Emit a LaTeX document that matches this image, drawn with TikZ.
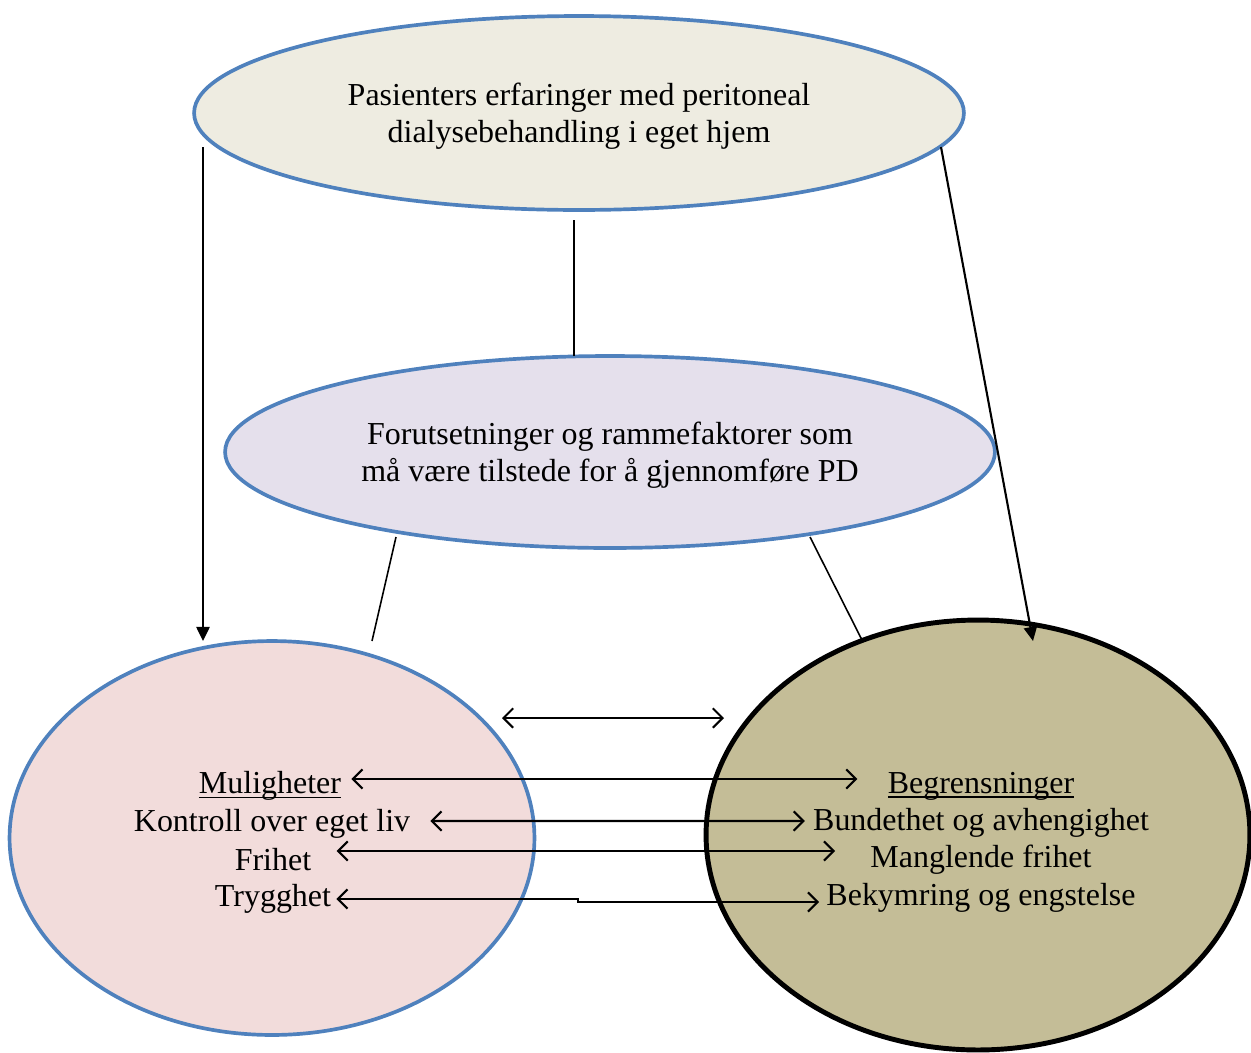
\documentclass[tikz,border=0pt]{standalone}
\usepackage{fontspec}
\setmainfont{Liberation Serif}
\usetikzlibrary{shapes.geometric,arrows.meta,calc}
\definecolor{bordblue}{HTML}{4F81BD}
\definecolor{topfill}{HTML}{EEECE1}
\definecolor{midfill}{HTML}{E5E0EC}
\definecolor{leftfill}{HTML}{F2DCDB}
\definecolor{rightfill}{HTML}{C4BD97}
\newcommand\myul[1]{\setbox0\hbox{#1}\rlap{\rule[-2.6pt]{\wd0}{0.85pt}}#1}
\begin{document}
\begin{tikzpicture}[x=0.02cm,y=-0.02cm,
  every node/.style={font=\fontsize{18.2}{21}\selectfont},
  oval/.style={ellipse,draw=bordblue,line width=2.1pt,inner sep=0pt},
  lbl/.style={inner sep=0pt,anchor=center,align=center},
  link/.style={line width=0.9pt},
  down/.style={line width=1.2pt,-{Triangle[length=8pt,width=7.5pt]}},
  both/.style={line width=1.2pt,{Straight Barb[length=5.5pt,width=11pt]}-{Straight Barb[length=5.5pt,width=11pt]}}]
\useasboundingbox (0,0) rectangle (1251,1052);
\clip (0,0) rectangle (1251,1052);

% ellipses
\node[oval,fill=topfill,minimum width=15.4cm,minimum height=3.88cm] (top) at (579,113) {};
\node[oval,fill=midfill,minimum width=15.4cm,minimum height=3.84cm] (mid) at (610,452) {};
\node[oval,fill=leftfill,minimum width=10.5cm,minimum height=7.88cm] (lft) at (272,838) {};
\node[ellipse,draw=black,line width=2.8pt,fill=rightfill,inner sep=0pt,
  minimum width=10.88cm,minimum height=8.6cm] (rgt) at (978,835) {};

\node[lbl] (topt) at (579,116) {Pasienters erfaringer med peritoneal\\dialysebehandling i eget hjem};
\node[lbl] (midt) at (610,455) {Forutsetninger og rammefaktorer som\\må være tilstede for å gjennomføre PD};

% texts in left ellipse
\node[lbl] (mul) at (270,786) {\myul{Muligheter}};
\node[lbl] (kon) at (272,824) {Kontroll over eget liv};
\node[lbl] (fri) at (273,860) {Frihet};
\node[lbl] (try) at (273,899) {Trygghet};
% texts in right ellipse
\node[lbl] (beg) at (981,786) {\myul{Begrensninger}};
\node[lbl] (bun) at (981,823) {Bundethet og avhengighet};
\node[lbl] (man) at (981,860) {Manglende frihet};
\node[lbl] (bek) at (981,898) {Bekymring og engstelse};

% free ends
\coordinate (tl) at (203,147);
\coordinate (tlend) at (203,641);
\coordinate (tr) at (941,147);
\coordinate (trend) at (1033,641);
\coordinate (tc) at (574,220);
\coordinate (tcend) at (574,356);
\coordinate (ml) at (396,537);
\coordinate (mlend) at (372,641);
\coordinate (mr) at (810,537);
\coordinate (mrend) at (862,640);
\coordinate (dl) at (502,718);
\coordinate (dr) at (724,718);
\coordinate (stp) at (578,900.5);

\draw[down] (tl) -- (tlend);
\draw[down] (tr) -- (trend);
\draw[link] (tc) -- (tcend);
\draw[link] (ml) -- (mlend);
\draw[link] (mr) -- (mrend);
\draw[both] (dl) -- (dr);

\draw[both] ([xshift=0.2cm,yshift=0.14cm]mul.east) -- ([xshift=-0.6cm,yshift=0.14cm]beg.west);
\draw[both] ([xshift=0.4cm,yshift=0.06cm]kon.east) -- ([xshift=-0.16cm,yshift=0.04cm]bun.west);
\draw[both] ([xshift=0.5cm,yshift=0.18cm]fri.east) -- ([xshift=-0.7cm,yshift=0.18cm]man.west);
\draw[both] ([xshift=0.1cm]try.east) -| (stp) |- ([xshift=-0.14cm,yshift=-0.08cm]bek.west);
\end{tikzpicture}
\end{document}
